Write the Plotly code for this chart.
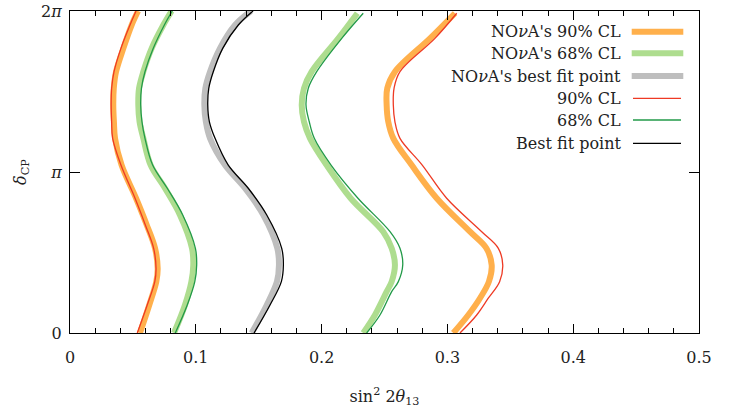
import math
import plotly.graph_objects as go

# ---- data (delta_CP in units of pi, sin^2 2theta13) ----
# NOvA's 90% CL (left and right branches)
nova90_L_d = [0, 0.174, 0.319, 0.40, 0.526, 0.671, 0.837, 1.043, 1.209, 1.312, 1.416, 1.520, 1.623, 1.768, 1.913, 2.0]
nova90_L_x = [0.0556, 0.0630, 0.0686, 0.0697, 0.0676, 0.0610, 0.0525, 0.0410, 0.0358, 0.0349, 0.0344, 0.0348, 0.0366, 0.0424, 0.0490, 0.0541]
nova90_R_d = [0, 0.112, 0.216, 0.319, 0.422, 0.526, 0.629, 0.837, 1.043, 1.209, 1.312, 1.416, 1.520, 1.623, 1.830, 1.986]
nova90_R_x = [0.3047, 0.3166, 0.3259, 0.3330, 0.3352, 0.3310, 0.3180, 0.2915, 0.2716, 0.2570, 0.2530, 0.2517, 0.2522, 0.2583, 0.2862, 0.3060]

# NOvA's 68% CL
nova68_L_d = [0, 0.174, 0.319, 0.422, 0.526, 0.733, 0.899, 1.043, 1.209, 1.312, 1.416, 1.520, 1.623, 1.768, 1.913, 2.0]
nova68_L_x = [0.0827, 0.0914, 0.0965, 0.0980, 0.0970, 0.0874, 0.0755, 0.0641, 0.0583, 0.0553, 0.0543, 0.0549, 0.0583, 0.0649, 0.0742, 0.0808]
nova68_R_d = [0, 0.112, 0.257, 0.319, 0.422, 0.526, 0.629, 0.837, 1.043, 1.209, 1.312, 1.416, 1.520, 1.623, 1.830, 1.986]
nova68_R_x = [0.2331, 0.2424, 0.2517, 0.2557, 0.2583, 0.2557, 0.2490, 0.2231, 0.2040, 0.1908, 0.1860, 0.1842, 0.1860, 0.1921, 0.2133, 0.2284]

# NOvA's best fit point
novabf_d = [0, 0.174, 0.319, 0.422, 0.526, 0.733, 0.899, 1.043, 1.209, 1.312, 1.416, 1.520, 1.623, 1.768, 1.913, 2.0]
novabf_x = [0.1444, 0.1564, 0.1645, 0.1661, 0.1648, 0.1537, 0.1391, 0.1232, 0.1113, 0.1080, 0.1068, 0.1076, 0.1113, 0.1192, 0.1312, 0.1438]

# 90% CL
cl90_L_d = [0, 0.174, 0.319, 0.40, 0.526, 0.671, 0.837, 1.043, 1.209, 1.312, 1.416, 1.520, 1.623, 1.768, 1.913, 2.0]
cl90_L_x = [0.0535, 0.0614, 0.0674, 0.0684, 0.0665, 0.0599, 0.0517, 0.0405, 0.0339, 0.0331, 0.0327, 0.0331, 0.0350, 0.0405, 0.0477, 0.0525]
cl90_R_d = [0, 0.112, 0.216, 0.319, 0.422, 0.526, 0.629, 0.837, 1.043, 1.209, 1.312, 1.416, 1.520, 1.623, 1.830, 1.986]
cl90_R_x = [0.3100, 0.3233, 0.3325, 0.3415, 0.3440, 0.3405, 0.3273, 0.2994, 0.2800, 0.2623, 0.2583, 0.2570, 0.2576, 0.2623, 0.2901, 0.3074]

# 68% CL
cl68_L_d = [0, 0.174, 0.319, 0.422, 0.526, 0.733, 0.899, 1.043, 1.209, 1.312, 1.416, 1.520, 1.623, 1.768, 1.913, 2.0]
cl68_L_x = [0.0837, 0.0932, 0.0992, 0.1007, 0.0997, 0.0896, 0.0773, 0.0657, 0.0596, 0.0572, 0.0562, 0.0568, 0.0596, 0.0662, 0.0750, 0.0813]
cl68_R_d = [0, 0.112, 0.257, 0.319, 0.422, 0.526, 0.629, 0.837, 1.043, 1.209, 1.312, 1.416, 1.520, 1.623, 1.830, 1.986]
cl68_R_x = [0.2358, 0.2464, 0.2557, 0.2610, 0.2645, 0.2623, 0.2544, 0.2289, 0.2075, 0.1942, 0.1902, 0.1876, 0.1894, 0.1961, 0.2160, 0.2331]

# Best fit point
bf_d = [0, 0.174, 0.319, 0.422, 0.526, 0.733, 0.899, 1.043, 1.209, 1.312, 1.416, 1.520, 1.623, 1.768, 1.913, 2.0]
bf_x = [0.1463, 0.1590, 0.1680, 0.1696, 0.1683, 0.1564, 0.1417, 0.1258, 0.1153, 0.1108, 0.1095, 0.1103, 0.1139, 0.1214, 0.1338, 0.1455]

y_tickvals_pi = [0, 1, 2]
y_ticktext = ["0", "<i>π</i>", "2<i>π</i>"]
x_tickvals = [0, 0.1, 0.2, 0.3, 0.4, 0.5]

PI = math.pi


def join(xa, da, xb=None, db=None):
    xs = list(xa)
    ys = [d * PI for d in da]
    if xb is not None:
        xs += [None] + list(xb)
        ys += [None] + [d * PI for d in db]
    return xs, ys


ORANGE = "#FFB04C"
LGREEN = "#AEDD8F"
GRAY = "#BEBEBE"
RED = "#EE3A24"
DGREEN = "#229A48"
BLACK = "#000000"
THICK = 6
THIN = 1.3

series = [
    ("NO<i>ν</i>A's 90% CL", join(nova90_L_x, nova90_L_d, nova90_R_x, nova90_R_d), ORANGE, THICK),
    ("NO<i>ν</i>A's 68% CL", join(nova68_L_x, nova68_L_d, nova68_R_x, nova68_R_d), LGREEN, THICK),
    ("NO<i>ν</i>A's best fit point", join(novabf_x, novabf_d), GRAY, THICK),
    ("90% CL", join(cl90_L_x, cl90_L_d, cl90_R_x, cl90_R_d), RED, THIN),
    ("68% CL", join(cl68_L_x, cl68_L_d, cl68_R_x, cl68_R_d), DGREEN, THIN),
    ("Best fit point", join(bf_x, bf_d), BLACK, THIN),
]

FONT = "DejaVu Serif"
FS = 16
TXT = "#222222"

fig = go.Figure()
for name, (xs, ys), color, w in series:
    fig.add_trace(go.Scatter(
        x=xs, y=ys, mode="lines", name=name, showlegend=False,
        line=dict(color=color, width=w, shape="spline", smoothing=1.0),
        connectgaps=False,
    ))

# custom legend: right-aligned text with the line sample on its right
W_PLOT = 629.0
H_PLOT = 322.0
row_y = [31.7, 53.3, 76.0, 98.3, 120.0, 143.3]
text_right = (623.3 - 70) / W_PLOT
for (name, _, color, w), py in zip(series, row_y):
    yp = (333 - py) / H_PLOT
    fig.add_annotation(x=text_right, y=yp, xref="paper", yref="paper",
                       text=name, showarrow=False, xanchor="right", yanchor="middle",
                       font=dict(family=FONT, size=FS, color=TXT))
    if w == THICK:
        x0, x1 = (631.7 - 70) / W_PLOT, (683.3 - 70) / W_PLOT
    else:
        x0, x1 = (633 - 70) / W_PLOT, (681 - 70) / W_PLOT
    fig.add_shape(type="line", xref="paper", yref="paper", x0=x0, x1=x1, y0=yp, y1=yp,
                  line=dict(color=color, width=w))

axis_common = dict(
    showgrid=False, zeroline=False, showline=True, linecolor="black", linewidth=1.3,
    mirror="allticks", ticks="inside", tickcolor="black", tickwidth=1.2,
    tickfont=dict(family=FONT, size=FS, color=TXT), automargin=False,
)

fig.update_xaxes(
    range=[0, 0.5], tickvals=x_tickvals, ticklen=9, ticklabelstandoff=10,
    minor=dict(dtick=0.02, ticks="inside", ticklen=4.5, tickcolor="black", tickwidth=1.2, showgrid=False),
    title=dict(text="sin<sup>2</sup> 2<i>θ</i><sub>13</sub>", font=dict(family=FONT, size=FS, color=TXT), standoff=24),
    **axis_common,
)
fig.update_yaxes(
    range=[0, 2 * PI], tickvals=[v * PI for v in y_tickvals_pi], ticktext=y_ticktext, ticklen=10,
    ticklabelstandoff=4,
    title=dict(text="<i>δ</i><sub>CP</sub>", font=dict(family=FONT, size=FS, color=TXT), standoff=10),
    **axis_common,
)

fig.update_layout(
    width=738, height=410,
    margin=dict(l=70, r=39, t=11, b=77, autoexpand=False),
    plot_bgcolor="white", paper_bgcolor="white",
    font=dict(family=FONT, size=FS, color=TXT),
)

fig.write_html("out.html")
